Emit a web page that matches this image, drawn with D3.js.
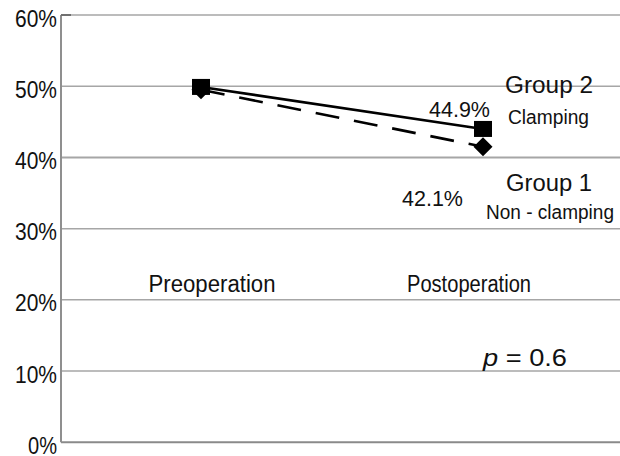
<!DOCTYPE html>
<html>
<head>
<meta charset="utf-8">
<script src="https://cdn.jsdelivr.net/npm/d3@7"></script>
<style>
  html, body { margin: 0; padding: 0; background: #fff; }
  svg { display: block; font-family: "Liberation Sans", Arial, Helvetica, sans-serif; }
</style>
</head>
<body>
<svg id="chart" width="620" height="456"></svg>
<script>
// ---- data ----
const categories = ["Preoperation", "Postoperation"];
const group2Values = [49.9, 44.0];   // Clamping (square, solid)
const group1Values = [49.5, 41.5];   // Non-clamping (diamond, dashed)
const yTicks = [0, 10, 20, 30, 40, 50, 60];
const group2Label = "44.9%";
const group1Label = "42.1%";
const pText = "0.6";

// ---- layout ----
const svg = d3.select("#chart");
const W = 620, H = 456;
const mLeft = 61, mTop = 15, mBottom = 442.3;

const x = d3.scalePoint().domain(categories).range([60, 624]).padding(0.5);
const y = d3.scaleLinear().domain([0, 60]).range([mBottom, mTop]);

// gridlines
svg.append("g").selectAll("line").data(yTicks).join("line")
  .attr("x1", mLeft).attr("x2", W)
  .attr("y1", d => y(d)).attr("y2", d => y(d))
  .attr("stroke", d => d === 0 ? "#8a8a8a" : "#a6a6a6")
  .attr("stroke-width", d => (d === 0 || d === 40) ? 2 : 1.5);

// y axis line
svg.append("line")
  .attr("x1", mLeft).attr("x2", mLeft)
  .attr("y1", y(60)).attr("y2", y(0))
  .attr("stroke", "#8f8f8f").attr("stroke-width", 2);
// small tick at top
svg.append("line")
  .attr("x1", mLeft).attr("x2", mLeft + 10)
  .attr("y1", y(60)).attr("y2", y(60))
  .attr("stroke", "#707070").attr("stroke-width", 2);

// y tick labels
svg.append("g").selectAll("text").data(yTicks).join("text")
  .attr("x", 57).attr("y", d => y(d) + 11.5)
  .attr("text-anchor", "end")
  .attr("font-size", 23)
  .attr("fill", "#111")
  .attr("textLength", d => d === 0 ? 29 : 42).attr("lengthAdjust", "spacingAndGlyphs")
  .text(d => d + "%");

// category labels
const catOffset = [11, -14];
svg.append("g").selectAll("text").data(categories).join("text")
  .attr("x", (d, i) => x(d) + catOffset[i])
  .attr("y", 292)
  .attr("text-anchor", "middle")
  .attr("font-size", 23)
  .attr("fill", "#111")
  .attr("textLength", (d, i) => i === 0 ? 127 : 124)
  .attr("lengthAdjust", "spacingAndGlyphs")
  .text(d => d);

// lines
const line = d3.line().x((d, i) => x(categories[i])).y(d => y(d));
svg.append("path").datum(group1Values)
  .attr("d", line).attr("fill", "none")
  .attr("stroke", "#000").attr("stroke-width", 2.6)
  .attr("stroke-dasharray", "24,15");
svg.append("path").datum(group2Values)
  .attr("d", line).attr("fill", "none")
  .attr("stroke", "#000").attr("stroke-width", 2.6);

// diamonds (group 1)
svg.append("g").selectAll("path").data(group1Values).join("path")
  .attr("transform", (d, i) => `translate(${x(categories[i])},${y(d)})`)
  .attr("d", "M0,-9.5 L9.5,0 L0,9.5 L-9.5,0 Z")
  .attr("fill", "#000");

// squares (group 2)
svg.append("g").selectAll("rect").data(group2Values).join("rect")
  .attr("x", (d, i) => x(categories[i]) - 9)
  .attr("y", d => y(d) - 8)
  .attr("width", 18).attr("height", 16)
  .attr("fill", "#000");

// value labels
const xPost = x(categories[1]);
svg.append("text")
  .attr("x", xPost + 7).attr("y", y(group2Values[1]) - 12)
  .attr("text-anchor", "end").attr("font-size", 22).attr("fill", "#111")
  .attr("textLength", 61).attr("lengthAdjust", "spacingAndGlyphs")
  .text(group2Label);
svg.append("text")
  .attr("x", xPost - 20).attr("y", y(group1Values[1]) + 59)
  .attr("text-anchor", "end").attr("font-size", 22).attr("fill", "#111")
  .attr("textLength", 61).attr("lengthAdjust", "spacingAndGlyphs")
  .text(group1Label);

// group labels
const labels = [
  {t: "Group 2", x: 505, y: 93, s: 23, w: 88},
  {t: "Clamping", x: 508, y: 124, s: 20, w: 81},
  {t: "Group 1", x: 506, y: 191, s: 23, w: 86},
  {t: "Non - clamping", x: 486, y: 219, s: 20, w: 128}
];
svg.append("g").selectAll("text").data(labels).join("text")
  .attr("x", d => d.x).attr("y", d => d.y)
  .attr("font-size", d => d.s).attr("fill", "#111")
  .attr("textLength", d => d.w).attr("lengthAdjust", "spacingAndGlyphs")
  .text(d => d.t);

// p value
const pt = svg.append("text")
  .attr("x", 483).attr("y", 366)
  .attr("font-size", 23).attr("fill", "#111")
  .attr("textLength", 84).attr("lengthAdjust", "spacingAndGlyphs");
pt.append("tspan").attr("font-style", "italic").text("p");
pt.append("tspan").text(" = " + pText);
</script>
</body>
</html>
